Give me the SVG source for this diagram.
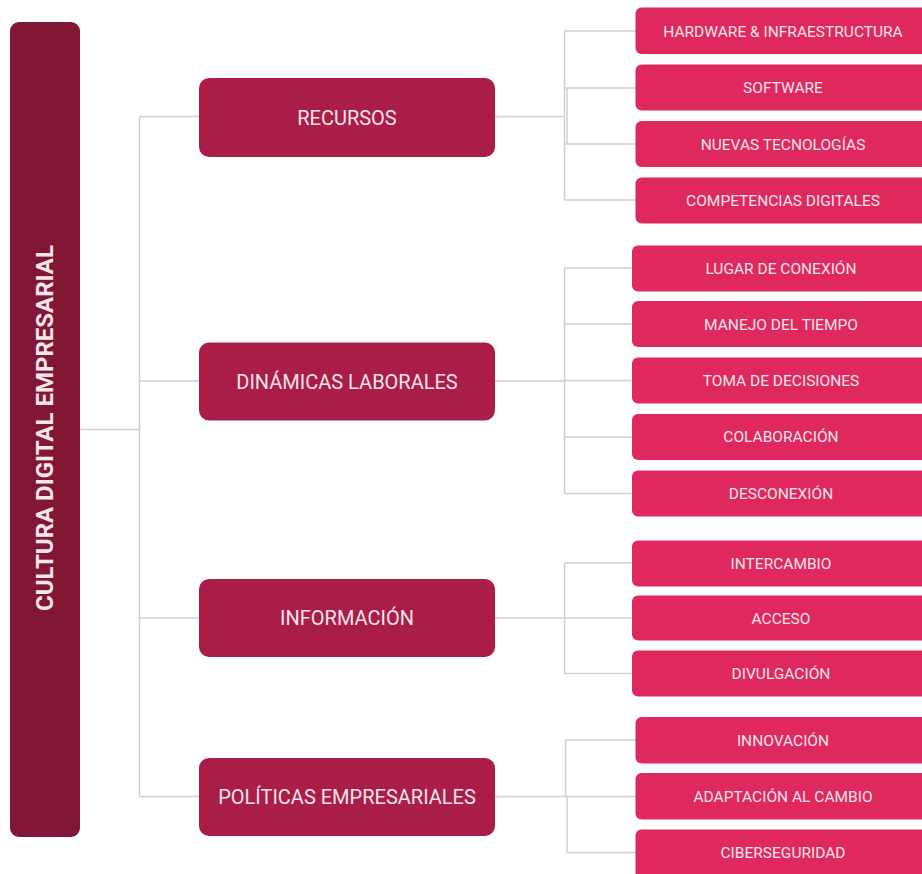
<svg xmlns="http://www.w3.org/2000/svg" width="922" height="874" viewBox="0 0 922 874">
<style>
.root{fill:#821735}
.l1{fill:#aa1d46}
.l2{fill:#df295e}
.t{font-family:Roboto,"Liberation Sans",sans-serif;fill:#f7e4ea;text-anchor:middle;dominant-baseline:central}
.t1{font-size:20px}
.t2{font-size:15.5px}
.tr{font-size:24px;font-weight:bold;fill:#f5e6ea}
.c{fill:none;stroke:#cfcfcf;stroke-width:1.5}
</style>
<rect width="922" height="874" fill="#ffffff"/>
<g id="connectors">
<path class="c" d="M80 429.5H139.5M139.5 116.5V796.5M139.5 116.5H199M139.5 381H199M139.5 618H199M139.5 796.5H199"/>
<path class="c" d="M495 116.5H564.5M564.5 31V200M564.5 31H636M564.5 88H636M564.5 144H636M564.5 200H636M567 88V144"/>
<path class="c" d="M495 381H564.5M564.5 268V493.5M564.5 268H632M564.5 324H632M564.5 380.5H632M564.5 437H632M564.5 493.5H632"/>
<path class="c" d="M495 618H564.5M564.5 563V673.5M564.5 563H632M564.5 618H632M564.5 673.5H632"/>
<path class="c" d="M495 796.5H565.5M565.5 740V796.5M567 796.5V852.5M565.5 740H636M565.5 796.5H636M567 852.5H636"/>
</g>
<g id="root">
<rect class="root" x="10" y="22" width="70" height="815" rx="9"/>
<text class="t tr" transform="translate(45 428) rotate(-90)">CULTURA DIGITAL EMPRESARIAL</text>
</g>
<g id="recursos">
<rect class="l1" x="199" y="78" width="296" height="79" rx="10"/>
<text class="t t1" x="347" y="117.5">RECURSOS</text>
</g>
<g id="dinamicas">
<rect class="l1" x="199" y="342.5" width="296" height="78" rx="10"/>
<text class="t t1" x="347" y="381.5">DINÁMICAS LABORALES</text>
</g>
<g id="informacion">
<rect class="l1" x="199" y="579" width="296" height="78" rx="10"/>
<text class="t t1" x="347" y="618">INFORMACIÓN</text>
</g>
<g id="politicas">
<rect class="l1" x="199" y="758" width="296" height="78" rx="10"/>
<text class="t t1" x="347" y="797">POLÍTICAS EMPRESARIALES</text>
</g>
<g id="hardware"><rect class="l2" x="635.5" y="7.5" width="300" height="46.5" rx="6"/><text class="t t2" x="783" y="31.5">HARDWARE &amp; INFRAESTRUCTURA</text></g>
<g id="software"><rect class="l2" x="635.5" y="64.5" width="300" height="46" rx="6"/><text class="t t2" x="783" y="88">SOFTWARE</text></g>
<g id="nuevas"><rect class="l2" x="635.5" y="121" width="300" height="46" rx="6"/><text class="t t2" x="783" y="144.5">NUEVAS TECNOLOGÍAS</text></g>
<g id="competencias"><rect class="l2" x="635.5" y="177.5" width="300" height="46" rx="6"/><text class="t t2" x="783" y="200.5">COMPETENCIAS DIGITALES</text></g>
<g id="lugar"><rect class="l2" x="632" y="245.5" width="300" height="46" rx="6"/><text class="t t2" x="781" y="268.5">LUGAR DE CONEXIÓN</text></g>
<g id="manejo"><rect class="l2" x="632" y="301" width="300" height="46" rx="6"/><text class="t t2" x="781" y="324.5">MANEJO DEL TIEMPO</text></g>
<g id="toma"><rect class="l2" x="632" y="357.5" width="300" height="46" rx="6"/><text class="t t2" x="781" y="381">TOMA DE DECISIONES</text></g>
<g id="colaboracion"><rect class="l2" x="632" y="414" width="300" height="46" rx="6"/><text class="t t2" x="781" y="437">COLABORACIÓN</text></g>
<g id="desconexion"><rect class="l2" x="632" y="470.5" width="300" height="46" rx="6"/><text class="t t2" x="781" y="493.5">DESCONEXIÓN</text></g>
<g id="intercambio"><rect class="l2" x="632" y="540.5" width="300" height="46" rx="6"/><text class="t t2" x="781" y="563.5">INTERCAMBIO</text></g>
<g id="acceso"><rect class="l2" x="632" y="595.5" width="300" height="45" rx="6"/><text class="t t2" x="781" y="618.5">ACCESO</text></g>
<g id="divulgacion"><rect class="l2" x="632" y="650.5" width="300" height="46" rx="6"/><text class="t t2" x="781" y="674">DIVULGACIÓN</text></g>
<g id="innovacion"><rect class="l2" x="635.5" y="717" width="300" height="46.5" rx="6"/><text class="t t2" x="783" y="740.5">INNOVACIÓN</text></g>
<g id="adaptacion"><rect class="l2" x="635.5" y="773" width="300" height="46.5" rx="6"/><text class="t t2" x="783" y="796.5">ADAPTACIÓN AL CAMBIO</text></g>
<g id="ciberseguridad"><rect class="l2" x="635.5" y="829.5" width="300" height="50" rx="6"/><text class="t t2" x="783" y="853">CIBERSEGURIDAD</text></g>
</svg>
